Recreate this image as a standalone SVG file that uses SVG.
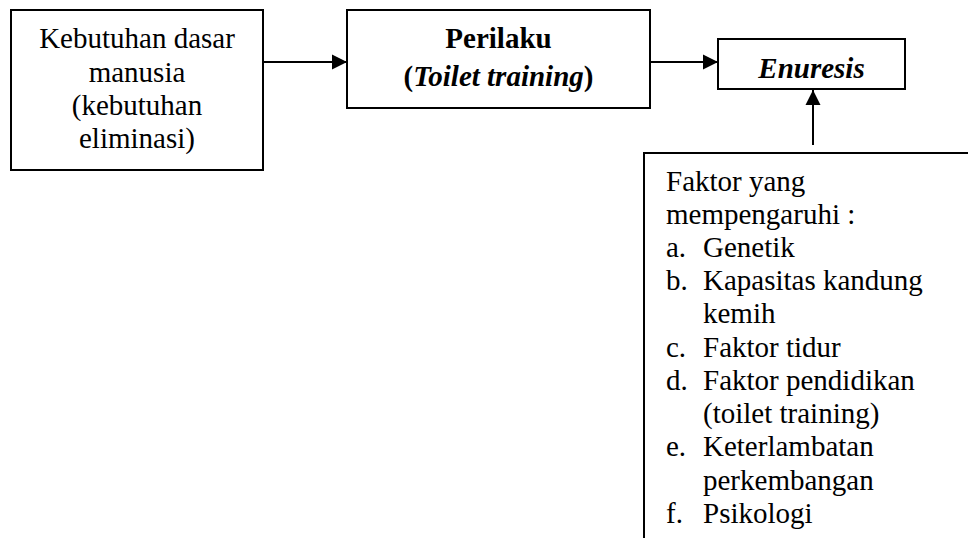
<svg xmlns="http://www.w3.org/2000/svg" width="968" height="538" viewBox="0 0 968 538">
<style>
.box{fill:#fff;stroke:#000;stroke-width:2}
.t{font-family:"Liberation Serif","Times New Roman",serif;font-size:29px;fill:#000}
.c{text-anchor:middle}
.b{font-weight:bold}
.i{font-style:italic}
.con{stroke:#000;stroke-width:2;fill:none}
</style>
<defs>
<marker id="ah" markerUnits="userSpaceOnUse" markerWidth="16" markerHeight="16" viewBox="0 0 16 16" refX="15" refY="8" orient="auto">
<path d="M0,0.5 L15,8 L0,15.5 Z" fill="#000"/>
</marker>
</defs>
<rect width="968" height="538" fill="#fff"/>
<g id="connectors">
<line class="con" x1="263" y1="62" x2="347" y2="62" marker-end="url(#ah)"/>
<line class="con" x1="650" y1="62" x2="718" y2="62" marker-end="url(#ah)"/>
<line class="con" x1="813" y1="145" x2="813" y2="90" marker-end="url(#ah)"/>
</g>
<g id="kebutuhan">
<rect class="box" x="11" y="10" width="252" height="160"/>
<text class="t c" x="137" y="48">Kebutuhan dasar</text>
<text class="t c" x="137" y="82">manusia</text>
<text class="t c" x="137" y="115">(kebutuhan</text>
<text class="t c" x="137" y="148">eliminasi)</text>
</g>
<g id="perilaku">
<rect class="box" x="347" y="10" width="303" height="98"/>
<text class="t c b" x="498.5" y="48">Perilaku</text>
<text class="t c b" x="498.5" y="86">(<tspan class="i">Toilet training</tspan>)</text>
</g>
<g id="enuresis">
<rect class="box" x="718" y="39" width="187" height="50"/>
<text class="t c b i" x="811.5" y="78">Enuresis</text>
</g>
<g id="faktor">
<path class="con" d="M644,540 L644,153 L970,153"/>
<text class="t" x="666" y="191">Faktor yang</text>
<text class="t" x="666" y="224">mempengaruhi :</text>
<text class="t" x="666" y="257">a.</text><text class="t" x="703" y="257">Genetik</text>
<text class="t" x="666" y="290">b.</text><text class="t" x="703" y="290">Kapasitas kandung</text>
<text class="t" x="703" y="323">kemih</text>
<text class="t" x="666" y="357">c.</text><text class="t" x="703" y="357">Faktor tidur</text>
<text class="t" x="666" y="390">d.</text><text class="t" x="703" y="390">Faktor pendidikan</text>
<text class="t" x="703" y="423">(toilet training)</text>
<text class="t" x="666" y="456">e.</text><text class="t" x="703" y="456">Keterlambatan</text>
<text class="t" x="703" y="490">perkembangan</text>
<text class="t" x="666" y="523">f.</text><text class="t" x="703" y="523">Psikologi</text>
</g>
</svg>
